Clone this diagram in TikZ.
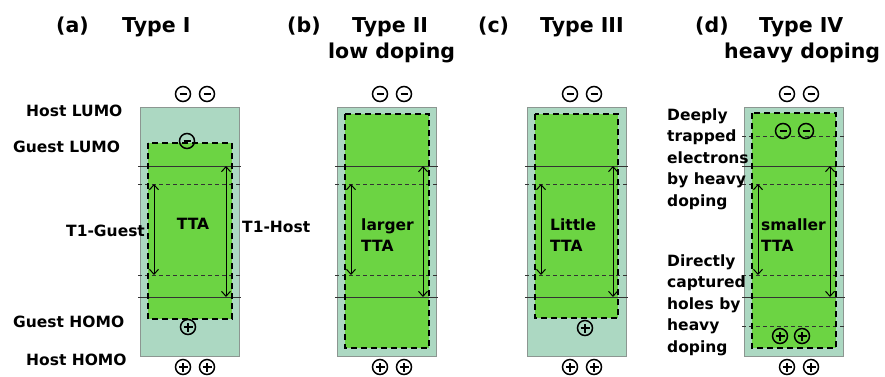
\documentclass[tikz,border=0pt]{standalone}
\usepackage{fontspec}
\setmainfont{DejaVu Sans}
\usetikzlibrary{arrows.meta}
\definecolor{hostfill}{RGB}{172,216,194}
\definecolor{hostedge}{RGB}{140,150,145}
\definecolor{guestfill}{RGB}{108,212,67}

\begin{document}
\begin{tikzpicture}[x=1pt,y=-1pt,
  lbl/.style={font=\fontsize{15.5}{21.5}\selectfont\bfseries, inner sep=0pt, align=left},
  ttl/.style={font=\fontsize{20.5}{26}\selectfont\bfseries, inner sep=0pt, anchor=base west},
  guest/.style={fill=guestfill, draw=black, line width=1.6pt, dash pattern=on 6pt off 4pt},
  hostlvl/.style={draw=black!80, line width=1pt},
  guestlvl/.style={draw=black!80, line width=0.8pt, dash pattern=on 4pt off 3pt},
  gap/.style={{Straight Barb[length=5pt,width=9pt]}-{Straight Barb[length=5pt,width=9pt]}, line width=1pt},
  electron/.style={circle, draw, line width=1.5pt, minimum size=15pt, inner sep=0pt,
    path picture={\draw[line width=1.5pt] ([xshift=-3.5pt]path picture bounding box.center) -- ([xshift=3.5pt]path picture bounding box.center);}},
  hole/.style={circle, draw, line width=1.5pt, minimum size=15pt, inner sep=0pt,
    path picture={\draw[line width=1.5pt] ([xshift=-4.5pt]path picture bounding box.center) -- ([xshift=4.5pt]path picture bounding box.center)
    ([yshift=-4.5pt]path picture bounding box.center) -- ([yshift=4.5pt]path picture bounding box.center);}}]
\useasboundingbox (0,0) rectangle (885,376);

% host layers
\foreach \p/\x in {a/140,b/337,c/527,d/744}
  \fill[hostfill, draw=hostedge] (\x,107) rectangle ++(99,249);

% guest layers
\fill[guestfill] (148,143) rectangle (232,319);
\fill[guestfill] (345,114) rectangle (429,348);
\fill[guestfill] (535,114) rectangle (618,318);
\fill[guestfill] (752,113) rectangle (836,348);

% energy levels, gaps and free charges
\foreach \p/\x in {a/140,b/337,c/527,d/744} {
  \draw[hostlvl] (\x-2,166) -- (\x+101,166);
  \draw[hostlvl] (\x-2,297) -- (\x+101,297);
  \draw[guestlvl] (\x-2,184) -- (\x+101,184);
  \draw[guestlvl] (\x-2,275) -- (\x+101,275);
  \coordinate (gtop\p) at (\x+14,184);
  \coordinate (gbot\p) at (\x+14,275);
  \coordinate (htop\p) at (\x+86,166);
  \coordinate (hbot\p) at (\x+86,297);
  \draw[gap] (gtop\p) -- (gbot\p);
  \draw[gap] (htop\p) -- (hbot\p);
  \node[electron] (el1\p) at (\x+43,94) {};
  \node[electron] (el2\p) at (\x+67,94) {};
  \node[hole] (ho1\p) at (\x+43,367) {};
  \node[hole] (ho2\p) at (\x+67,367) {};
}
\draw[guestlvl] (742,136) -- (845,136);
\draw[guestlvl] (742,326) -- (845,326);

% guest borders
\draw[guest, fill=none] (148,143) rectangle (232,319);
\draw[guest, fill=none] (345,114) rectangle (429,348);
\draw[guest, fill=none] (535,114) rectangle (618,318);
\draw[guest, fill=none] (752,113) rectangle (836,348);

\node[electron] (ga) at (187,141) {};
\node[hole] (gha) at (188,327) {};
\node[hole] (ghc) at (585,328) {};
\node[electron] (td1) at (783,131) {};
\node[electron] (td2) at (806,131) {};
\node[hole] (th1) at (780,336) {};
\node[hole] (th2) at (802,336) {};

% texts
\node[ttl] (ta) at (56,32) {(a)};
\node[ttl] (na) at (122,32) {Type I};
\node[ttl] (tb) at (287,32) {(b)};
\node[ttl] (nb) at (352,32) {Type II};
\node[ttl] (sb) at (328,58) {low doping};
\node[ttl] (tc) at (478,32) {(c)};
\node[ttl] (nc) at (540,32) {Type III};
\node[ttl] (td) at (695,32) {(d)};
\node[ttl] (nd) at (759,32) {Type IV};
\node[ttl] (sd) at (724,58) {heavy doping};

\node[lbl, anchor=west] (hl) at (26,111) {Host LUMO};
\node[lbl, anchor=west] (gl) at (13,147) {Guest LUMO};
\node[lbl, anchor=west] (gh) at (13,322) {Guest HOMO};
\node[lbl, anchor=west] (hh) at (26,360) {Host HOMO};
\node[lbl, anchor=west] (tg) at (66,231) {T1-Guest};
\node[lbl, anchor=west] (th) at (242,227) {T1-Host};

\node[lbl] (tta) at (193,224) {TTA};
\node[lbl, anchor=west] (ttb) at (361,235) {larger\\TTA};
\node[lbl, anchor=west] (ttc) at (550,235) {Little\\TTA};
\node[lbl, anchor=west] (ttd) at (761,235) {smaller\\TTA};

\node[lbl, anchor=west] (trap) at (667,159) {Deeply\\trapped\\electrons\\by heavy\\doping};
\node[lbl, anchor=west] (capt) at (667,305) {Directly\\captured\\holes by\\heavy\\doping};
\end{tikzpicture}
\end{document}
